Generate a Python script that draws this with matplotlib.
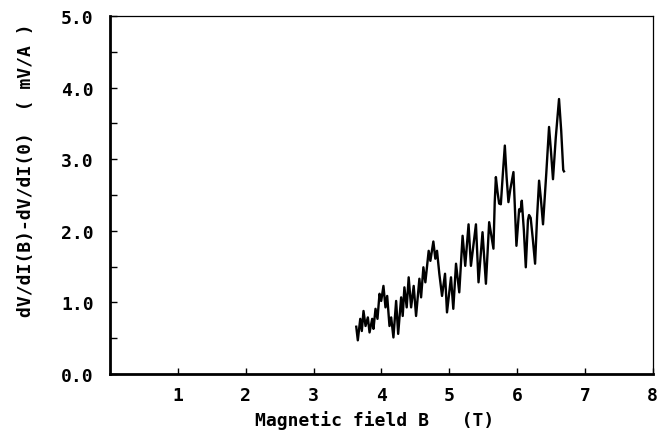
import matplotlib
matplotlib.use("Agg")
import matplotlib.pyplot as plt
from matplotlib.ticker import MultipleLocator

b_field = [3.628, 3.651, 3.687, 3.710, 3.735, 3.765, 3.799, 3.824, 3.863, 3.882,
           3.912, 3.941, 3.971, 3.996, 4.029, 4.059, 4.084, 4.118, 4.143, 4.176,
           4.216, 4.246, 4.290, 4.313, 4.338, 4.372, 4.401, 4.437, 4.475, 4.510,
           4.559, 4.584, 4.618, 4.647, 4.696, 4.721, 4.765, 4.794, 4.819, 4.853,
           4.893, 4.937, 4.966, 5.025, 5.059, 5.099, 5.147, 5.196, 5.235, 5.284,
           5.319, 5.393, 5.431, 5.490, 5.540, 5.588, 5.651, 5.670, 5.687, 5.710,
           5.735, 5.760, 5.790, 5.819, 5.845, 5.872, 5.900, 5.946, 5.990, 6.030,
           6.050, 6.069, 6.100, 6.128, 6.160, 6.176, 6.200, 6.230, 6.265, 6.295,
           6.324, 6.350, 6.382, 6.430, 6.471, 6.500, 6.529, 6.570, 6.618, 6.650,
           6.680, 6.691]
dvdi = [0.66, 0.47, 0.77, 0.60, 0.88, 0.67, 0.79, 0.58, 0.77, 0.63,
        0.91, 0.77, 1.12, 1.02, 1.23, 0.93, 1.09, 0.67, 0.79, 0.51,
        1.02, 0.56, 1.07, 0.81, 1.21, 0.93, 1.35, 0.93, 1.23, 0.81,
        1.33, 1.07, 1.49, 1.28, 1.72, 1.58, 1.85, 1.61, 1.72, 1.40,
        1.09, 1.40, 0.86, 1.35, 0.91, 1.54, 1.14, 1.93, 1.51, 2.09,
        1.51, 2.09, 1.28, 1.98, 1.26, 2.12, 1.75, 2.40, 2.75, 2.55,
        2.38, 2.37, 2.80, 3.19, 2.75, 2.40, 2.58, 2.82, 1.79, 2.30,
        2.27, 2.42, 2.00, 1.49, 2.15, 2.22, 2.18, 1.90, 1.54, 2.20,
        2.70, 2.45, 2.09, 2.80, 3.45, 3.10, 2.72, 3.30, 3.84, 3.40,
        2.85, 2.83]

x_ticks = [1, 2, 3, 4, 5, 6, 7, 8]
y_ticks = [0.0, 1.0, 2.0, 3.0, 4.0, 5.0]

font = {"family": "DejaVu Sans Mono", "size": 13, "weight": "bold"}

fig = plt.figure(figsize=(6.6, 4.35), dpi=100)
ax = fig.add_axes([0.167, 0.138, 0.822, 0.823])

ax.plot(b_field, dvdi, color="black", lw=1.7, solid_joinstyle="round")

ax.set_xlim(0, 8)
ax.set_ylim(0, 5)
ax.set_xticks(x_ticks)
ax.set_xticklabels([str(t) for t in x_ticks], **font)
ax.set_yticks(y_ticks)
ax.set_yticklabels(["%.1f" % t for t in y_ticks], **font)
ax.yaxis.set_minor_locator(MultipleLocator(0.5))

ax.tick_params(axis="x", direction="in", length=4, width=1, pad=9)
ax.tick_params(axis="y", direction="in", length=5, width=1, pad=12)
ax.tick_params(axis="y", which="minor", direction="in", length=5, width=1)

ax.spines["left"].set_linewidth(2.0)
ax.spines["bottom"].set_linewidth(2.0)
ax.spines["top"].set_linewidth(0.9)
ax.spines["right"].set_linewidth(0.9)

ax.set_xlabel("Magnetic field B   (T)", **font)
ax.set_ylabel("dV/dI(B)-dV/dI(0)  ( mV/A )", **font)
ax.xaxis.set_label_coords(0.488, -0.10)
ax.yaxis.set_label_coords(-0.138, 0.573)

fig.savefig("out.png", dpi=100)
